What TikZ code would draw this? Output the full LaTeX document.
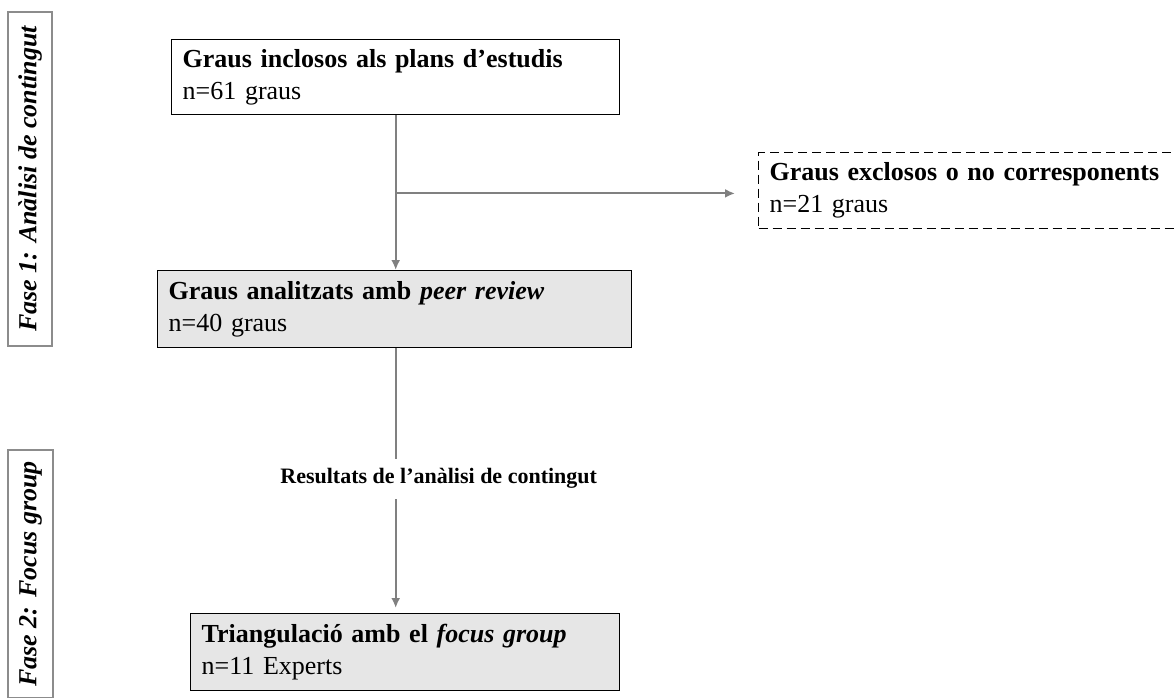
\documentclass[tikz,border=0pt]{standalone}
\usepackage{fontspec}
\setmainfont{Liberation Serif}
\usetikzlibrary{arrows.meta}

\definecolor{boxgrey}{RGB}{230, 230, 230}
\definecolor{linegrey}{RGB}{128, 128, 128}
\definecolor{fasegrey}{RGB}{140, 140, 140}

\begin{document}
\begin{tikzpicture}[> = {Latex[length = 5pt, width = 4.5pt]}, x = 0.5pt, y = -0.5pt]

	\useasboundingbox (0, 0) rectangle (1174, 697);

	% Definitions

	\tikzset{
		box/.style = {draw = black, line width = 0.7pt, align = left, anchor = north west,
			inner xsep = 5.5pt, inner ysep = 0pt, font = \fontsize{13}{16}\selectfont},
		greybox/.style = {box, fill = boxgrey},
		dashbox/.style = {box, line width = 0.6pt, dash pattern = on 4.5pt off 2.5pt},
		fase/.style = {draw = fasegrey, line width = 0.6pt, rotate = 90, inner sep = 0pt,
			font = \fontsize{13}{16}\bfseries\itshape},
		arrowline/.style = {draw = linegrey, line width = 1pt},
		resultlabel/.style = {fill = white, inner xsep = 0pt, inner ysep = 5pt,
			xshift = 21.5pt, yshift = 1pt, text = black, font = \fontsize{11}{13}\bfseries}
	}

	% Phases

	\node [fase, minimum width = 167pt, minimum height = 22pt] (fase1) at (30, 179) {Fase 1: Anàlisi de contingut};
	\node [fase, minimum width = 124pt, minimum height = 22.5pt] (fase2) at (30.5, 574) {Fase 2: Focus group};

	% Boxes

	\node [box, text width = 213pt, minimum height = 37.5pt] (plans) at (171, 39)
		{\textbf{Graus inclosos als plans d’estudis}\\n=61 graus};
	\node [greybox, text width = 226pt, minimum height = 38.5pt] (analitzats) at (157, 270)
		{\textbf{Graus analitzats amb \textit{peer review}}\\n=40 graus};
	\node [dashbox, text width = 220pt, minimum height = 38pt] (exclosos) at (758, 152)
		{\textbf{Graus exclosos o no corresponents}\\n=21 graus};
	\node [greybox, text width = 203.5pt, minimum height = 38.5pt] (triangulacio) at (190, 613)
		{\textbf{Triangulació amb el \textit{focus group}}\\n=11 Experts};

	% Arrows

	\path (plans.south) ++(0, 78) coordinate (split);
	\draw [arrowline, ->] (plans.south) -- (plans.south |- analitzats.north);
	\draw [arrowline, ->, shorten > = 11.5pt] (split) -- (split -| exclosos.west);
	\draw [arrowline, ->, shorten > = 2.5pt] (plans.south |- analitzats.south)
		-- node [resultlabel] {Resultats de l’anàlisi de contingut} (plans.south |- triangulacio.north);

\end{tikzpicture}
\end{document}
